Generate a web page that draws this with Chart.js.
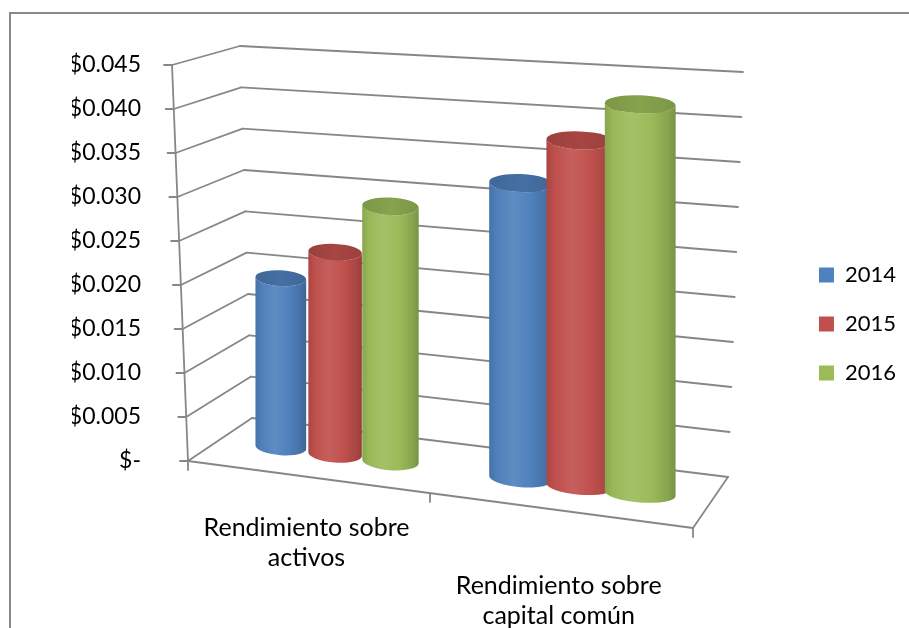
<!DOCTYPE html>
<html>
<head>
<meta charset="utf-8">
<title>Rendimiento</title>
<script src="https://cdn.jsdelivr.net/npm/chart.js@4.4.1/dist/chart.umd.min.js"></script>
<style>
  html, body { margin: 0; padding: 0; background: #fff; }
  #wrap { width: 909px; height: 628px; }
</style>
</head>
<body>
<div id="wrap"><canvas id="rendimientoChart"></canvas></div>
<script>
// Categories (two-line labels) and the three yearly series
const categorias = [['Rendimiento sobre', 'activos'], ['Rendimiento sobre', 'capital común']];
const anios = ['2014', '2015', '2016'];
const valores2014 = [0.0196, 0.0328];
const valores2015 = [0.0232, 0.0380];
const valores2016 = [0.0290, 0.0424];
const colores = ['#4F81BD', '#C0504D', '#9BBB59'];
const ejeMax = 0.045;
const ejePaso = 0.005;

const FUENTE = 'Lato, "Open Sans", sans-serif';
const LINEA = '#878787';

// Slight foreshortening along the category axis (left side is further away)
const PERSPECTIVA = 0.08;
function deformar(u) {
    return (1 - PERSPECTIVA) * u / (1 - PERSPECTIVA * u);
}

// Mix a hex colour toward white (t > 0) or black (t < 0)
function tono(hex, t) {
    const n = parseInt(hex.slice(1), 16);
    const d = t > 0 ? 255 : 0;
    const k = Math.abs(t);
    const c = [n >> 16, (n >> 8) & 255, n & 255].map(x => Math.round(x + (d - x) * k));
    return `rgb(${c[0]},${c[1]},${c[2]})`;
}

// Maps (u along categories, v along values, w into depth) onto the canvas,
// anchored to the chart area so the front-left edge lines up with the y axis
function crearCaja(chart) {
    const { left: L, top: T, bottom: B } = chart.chartArea;
    const esq = {
        flt: [L, T],            flb: [L + 16, B],
        frt: [L + 538, T + 32], frb: [L + 521, B + 67],
        blt: [L + 68, T - 19],  blb: [L + 80, B - 43],
        brt: [L + 571, T + 7],  brb: [L + 556, B + 16]
    };
    const mix = (a, b, t) => [a[0] + (b[0] - a[0]) * t, a[1] + (b[1] - a[1]) * t];
    return function (u, v, w) {
        const f = mix(mix(esq.flb, esq.frb, u), mix(esq.flt, esq.frt, u), v);
        const b = mix(mix(esq.blb, esq.brb, u), mix(esq.blt, esq.brt, u), v);
        const p = mix(f, b, w);
        return { x: p[0], y: p[1] };
    };
}

function fraccionValor(ys, valor) {
    return (ys.bottom - ys.getPixelForValue(valor)) / (ys.bottom - ys.top);
}

function fraccionCategoria(xs, px) {
    return deformar((px - xs.left) / (xs.right - xs.left));
}

function linea(ctx, a, b) {
    ctx.beginPath();
    ctx.moveTo(a.x, a.y);
    ctx.lineTo(b.x, b.y);
    ctx.stroke();
}

function dibujarCilindro(ctx, P, uL, uC, uR, v, color) {
    const b0 = P(uC, 0, 0.5);
    // keep the cylinder upright: top centre sits straight above the base
    const b1 = { x: b0.x, y: P(uC, v, 0.5).y };
    const l0 = P(uL, 0, 0.5), r0 = P(uR, 0, 0.5);
    const l1 = P(uL, v, 0.5), r1 = P(uR, v, 0.5);
    // nearer cylinders (to the right) look a little wider
    const rx = Math.hypot(r0.x - l0.x, r0.y - l0.y) / 2 * (0.9 + 0.3 * uC);
    const a0 = Math.atan2(r0.y - l0.y, r0.x - l0.x) * 0.6;
    const a1 = Math.atan2(r1.y - l1.y, r1.x - l1.x) * 0.6;
    const ry = Math.min(rx * 0.31, 9);

    // body
    const g = ctx.createLinearGradient(b0.x - rx, 0, b0.x + rx, 0);
    g.addColorStop(0, tono(color, -0.12));
    g.addColorStop(0.12, tono(color, -0.01));
    g.addColorStop(0.38, tono(color, 0.09));
    g.addColorStop(0.66, tono(color, 0.0));
    g.addColorStop(0.9, tono(color, -0.13));
    g.addColorStop(1, tono(color, -0.22));
    ctx.beginPath();
    ctx.moveTo(b1.x - rx * Math.cos(a1), b1.y - rx * Math.sin(a1));
    ctx.lineTo(b0.x - rx * Math.cos(a0), b0.y - rx * Math.sin(a0));
    ctx.ellipse(b0.x, b0.y, rx, ry, a0, Math.PI, 0, true);
    ctx.lineTo(b1.x + rx * Math.cos(a1), b1.y + rx * Math.sin(a1));
    ctx.ellipse(b1.x, b1.y, rx, ry, a1, 0, Math.PI, false);
    ctx.closePath();
    ctx.fillStyle = g;
    ctx.fill();

    // cap
    const gt = ctx.createLinearGradient(b1.x - rx, 0, b1.x + rx, 0);
    gt.addColorStop(0, tono(color, -0.2));
    gt.addColorStop(0.5, tono(color, -0.13));
    gt.addColorStop(1, tono(color, -0.2));
    ctx.beginPath();
    ctx.ellipse(b1.x, b1.y, rx, ry, a1, 0, Math.PI * 2);
    ctx.fillStyle = gt;
    ctx.fill();
}

const cilindros3d = {
    id: 'cilindros3d',
    beforeDraw(chart) {
        // outer chart border
        const ctx = chart.ctx;
        ctx.save();
        ctx.strokeStyle = '#8a8a8a';
        ctx.lineWidth = 2;
        ctx.beginPath();
        ctx.moveTo(10, chart.height);
        ctx.lineTo(10, 13);
        ctx.lineTo(chart.width, 13);
        ctx.stroke();
        ctx.restore();
    },
    beforeDatasetsDraw(chart) {
        const ctx = chart.ctx;
        const ys = chart.scales.y;
        const P = crearCaja(chart);
        ctx.save();
        ctx.strokeStyle = LINEA;
        ctx.lineWidth = 1.8;
        ctx.lineCap = 'round';
        // side wall + back wall gridlines, with y tick marks
        ys.ticks.forEach(t => {
            const v = fraccionValor(ys, t.value);
            const f = P(0, v, 0), b = P(0, v, 1), r = P(1, v, 1);
            linea(ctx, f, b);
            linea(ctx, b, r);
            linea(ctx, f, { x: f.x - 8, y: f.y });
        });
        // front y axis
        linea(ctx, P(0, 0, 0), P(0, 1, 0));
        // floor edges
        linea(ctx, P(0, 0, 0), P(1, 0, 0));
        linea(ctx, P(1, 0, 0), P(1, 0, 1));
        // category tick marks
        [0, deformar(0.5), 1].forEach(u => {
            const p = P(u, 0, 0);
            linea(ctx, p, { x: p.x, y: p.y + 9 });
        });
        ctx.restore();
    },
    beforeDatasetDraw() {
        return false;
    },
    afterDatasetsDraw(chart) {
        const ctx = chart.ctx;
        const ys = chart.scales.y, xs = chart.scales.x;
        const P = crearCaja(chart);
        ctx.save();
        categorias.forEach((_, j) => {
            chart.data.datasets.forEach((ds, i) => {
                const el = chart.getDatasetMeta(i).data[j];
                const uL = fraccionCategoria(xs, el.x - el.width / 2);
                const uC = fraccionCategoria(xs, el.x);
                const uR = fraccionCategoria(xs, el.x + el.width / 2);
                const v = fraccionValor(ys, ds.data[j]);
                dibujarCilindro(ctx, P, uL, uC, uR, v, colores[i]);
            });
        });

        // category labels under the floor's front edge
        ctx.fillStyle = '#000';
        ctx.font = `25px ${FUENTE}`;
        ctx.textAlign = 'center';
        ctx.textBaseline = 'middle';
        categorias.forEach((lineas, j) => {
            const u = fraccionCategoria(xs, xs.getPixelForValue(j));
            const p = P(u, 0, 0);
            const y0 = p.y + 39 + 50 * u;
            lineas.forEach((txt, k) => ctx.fillText(txt, p.x, y0 + k * 30));
        });
        ctx.restore();
    }
};

const series = [valores2014, valores2015, valores2016];

new Chart(document.getElementById('rendimientoChart'), {
    type: 'bar',
    data: {
        labels: categorias,
        datasets: anios.map((anio, i) => ({
            label: anio,
            data: series[i],
            backgroundColor: colores[i],
            borderWidth: 0
        }))
    },
    options: {
        responsive: true,
        maintainAspectRatio: false,
        animation: false,
        events: [],
        layout: { padding: { top: 20, right: 3, bottom: 0, left: 72 } },
        datasets: { bar: { categoryPercentage: 0.7, barPercentage: 1 } },
        plugins: {
            // empty title only reserves the space above the plot
            title: { display: true, text: '', padding: { top: 0, bottom: 35 }, font: { size: 10, lineHeight: 1 } },
            legend: {
                position: 'right',
                labels: {
                    boxWidth: 15,
                    boxHeight: 15,
                    padding: 27,
                    color: '#000',
                    font: { family: FUENTE, size: 22 }
                }
            },
            tooltip: { enabled: false }
        },
        scales: {
            x: {
                grid: { display: false },
                border: { display: false },
                ticks: { display: false },
                afterFit: s => { s.height = 167; }
            },
            y: {
                min: 0,
                max: ejeMax,
                grid: { display: false, drawTicks: false },
                border: { display: false },
                ticks: {
                    stepSize: ejePaso,
                    padding: 31,
                    color: '#000',
                    font: { family: FUENTE, size: 23 },
                    callback: v => Math.abs(v) < 1e-9 ? '$-' : '$' + v.toFixed(3)
                },
                afterFit: s => { s.width = 100; }
            }
        }
    },
    plugins: [cilindros3d]
});
</script>
</body>
</html>
